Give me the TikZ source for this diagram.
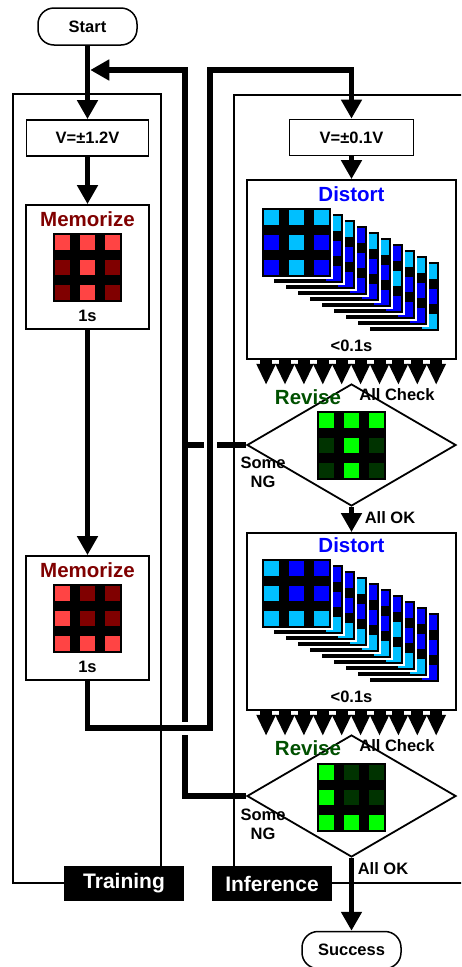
\documentclass[tikz,border=0pt]{standalone}
\usepackage{fontspec}
\setmainfont{Liberation Sans}
\usetikzlibrary{arrows.meta, shapes.geometric, backgrounds}

\definecolor{memhi}{HTML}{FF4444}
\definecolor{memlo}{HTML}{800000}
\definecolor{pixcyan}{HTML}{00BFFF}
\definecolor{pixblue}{HTML}{0000FF}
\definecolor{revhi}{HTML}{00FF00}
\definecolor{revlo}{HTML}{003300}
\definecolor{revtext}{HTML}{005000}

% 3x3 pixel pattern: top-left corner, nine cell colours (row by row)
\newcommand{\pixgrid}[2]{%
	\begin{scope}[shift={#1}]
		\fill[black, draw=white, line width=1.5pt] (0,0) rectangle (71,71);
		\foreach \clr [count=\k from 0] in {#2}
		\fill[\clr] ({3+25*mod(\k,3)},{3+25*int(\k/3)}) rectangle ++(15,15);
	\end{scope}}

% stack of distorted patterns: front corner x, y; front colours;
% right-hand columns of the cards behind (far to near)
\newcommand{\cardstack}[4]{%
	\foreach \topc/\midc/\botc [count=\n] in {#4} {
		\begin{scope}[shift={({#1+12*(10-\n)},{#2+6*(10-\n)})}]
			\fill[black, draw=white, line width=1.5pt] (0,0) rectangle (71,71);
			\fill[\topc] (53,3) rectangle ++(15,15);
			\fill[\midc] (53,28) rectangle ++(15,15);
			\fill[\botc] (53,53) rectangle ++(15,15);
		\end{scope}}
	\pixgrid{(#1,#2)}{#3}}

\begin{document}
\begin{tikzpicture}[
		x=1pt, y=-1pt,
		font=\bfseries\fontsize{16.5}{19}\selectfont,
		flow/.style={line width=5.5pt, -{Triangle[width=20pt,length=19pt]}},
		bus/.style={line width=5.5pt},
		bridge/.style={preaction={draw=white, line width=13pt, -}},
		probe/.style={line width=12pt, -{Triangle[width=18pt,length=21pt]}},
		term/.style={draw, line width=1.5pt, fill=white, rounded corners=16pt, inner sep=0, minimum width=99pt, minimum height=37pt},
		volt/.style={draw, line width=1.8pt, fill=white, inner sep=0, minimum height=36pt},
		panel/.style={draw, line width=1.8pt, fill=white, inner sep=0},
		check/.style={diamond, draw, line width=1.8pt, fill=white, inner sep=0, minimum width=209pt, minimum height=122pt},
		frame/.style={line width=1.5pt},
		tag/.style={fill=black, text=white, inner sep=0, minimum width=120pt, minimum height=35pt, font=\bfseries\fontsize{21}{24}\selectfont},
		title/.style={font=\bfseries\fontsize{20.5}{23}\selectfont}
		]
		
		\useasboundingbox (0,0) rectangle (461,967);
		\clip (0,0) rectangle (461,967);
		
		% ==========================================
		% Training column
		% ==========================================
		\node (start) [term] at (87.5,26.5) {Start};
		\node (vtrain) [volt, minimum width=122pt] at (87.5,138) {V=±1.2V};
		\node (mem1) [panel, minimum width=123pt, minimum height=124pt] at (87.5,267) {};
		\node (mem2) [panel, minimum width=123pt, minimum height=124pt] at (87.5,618) {};
		
		% ==========================================
		% Inference column
		% ==========================================
		\node (vinf) [volt, minimum width=124pt] at (351.5,137.5) {V=±0.1V};
		\node (dist1) [panel, minimum width=209pt, minimum height=179pt] at (351.5,269.5) {};
		\node (chk1) [check] at (351.5,445) {};
		\node (dist2) [panel, minimum width=209pt, minimum height=177pt] at (351.5,621.5) {};
		\node (chk2) [check] at (351.5,796) {};
		\node (success) [term] at (351.5,950) {Success};
		
		% feedback buses
		\coordinate (ngtop) at (185,70);
		\coordinate (merge) at (90.25,70);
		\coordinate (trainout) at (210,728);
		\coordinate (infbus) at (210,70);
		
		\begin{scope}[on background layer]
			\draw[bus] (chk1.west) -- (chk1.west -| ngtop);
			\draw[flow] (chk2.west) -| (ngtop) -- (merge);
			\draw[flow, bridge] (mem2.south) |- (trainout) -- (infbus) -| (vinf.north);
		\end{scope}
		
		% frames
		\draw[frame] (13,94) rectangle (161,883);
		\draw[frame] (475,95) -| (234,883) -- (475,883);
		\node (trainlbl) [tag] at (124,883.5) {Training};
		\node (inflbl) [tag] at (272,883.5) {Inference};
		
		% main flow
		\draw[flow] (start.south) -- (vtrain.north);
		\draw[flow] (vtrain) -- (mem1);
		\draw[flow] (mem1) -- (mem2);
		\draw[flow] (vinf) -- (dist1);
		\draw[flow] (chk1.south) -- (dist2.north);
		\draw[flow] (chk2.south) -- (success.north);
		\foreach \i in {0,...,9} {
			\draw[probe] ([xshift=20pt+18.9pt*\i]dist1.south west) -- ++(0,25);
			\draw[probe] ([xshift=20pt+18.9pt*\i]dist2.south west) -- ++(0,25);
		}
		
		% ==========================================
		% Panel contents
		% ==========================================
		\node (mem1title) [title, text=memlo] at (87.5,219) {Memorize};
		\pixgrid{(52,232)}{memhi,memhi,memhi,memlo,memhi,memlo,memlo,memhi,memlo}
		\node (mem1time) at (87.5,316) {1s};
		
		\node (mem2title) [title, text=memlo] at (87.5,570) {Memorize};
		\pixgrid{(52,583)}{memhi,memlo,memlo,memhi,memlo,memlo,memhi,memhi,memhi}
		\node (mem2time) at (87.5,667) {1s};
		
		\node (dist1title) [title, text=pixblue] at (351.5,194) {Distort};
		\cardstack{261}{207}{pixcyan,pixcyan,pixcyan,pixblue,pixcyan,pixblue,pixblue,pixcyan,pixblue}
		{pixcyan/pixblue/pixcyan, pixcyan/pixblue/pixblue, pixcyan/pixblue/pixblue,
			pixblue/pixcyan/pixblue, pixcyan/pixblue/pixblue, pixcyan/pixblue/pixblue,
			pixblue/pixblue/pixblue, pixcyan/pixblue/pixblue, pixcyan/pixblue/pixblue}
		\node (dist1time) at (351.5,346) {<0.1s};
		
		\node (dist2title) [title, text=pixblue] at (351.5,545) {Distort};
		\cardstack{261}{558}{pixcyan,pixblue,pixblue,pixcyan,pixblue,pixblue,pixcyan,pixcyan,pixcyan}
		{pixblue/pixblue/pixblue, pixblue/pixblue/pixcyan, pixblue/pixblue/pixcyan,
			pixblue/pixcyan/pixcyan, pixblue/pixblue/pixcyan, pixblue/pixblue/pixcyan,
			pixcyan/pixblue/pixcyan, pixblue/pixblue/pixcyan, pixblue/pixblue/pixcyan}
		\node (dist2time) at (351.5,697) {<0.1s};
		
		% checks
		\node (rev1) [title, text=revtext] at (308,397) {Revise};
		\pixgrid{(316,410)}{revhi,revhi,revhi,revlo,revhi,revlo,revlo,revhi,revlo}
		\node (all1) at (397,395) {All Check};
		\node (ng1) [align=center] at (263,472.5) {Some\\NG};
		\node (ok1) at (390,518) {All OK};
		
		\node (rev2) [title, text=revtext] at (308,748) {Revise};
		\pixgrid{(316,762)}{revhi,revlo,revlo,revhi,revlo,revlo,revhi,revhi,revhi}
		\node (all2) at (397,746) {All Check};
		\node (ng2) [align=center] at (263,824.5) {Some\\NG};
		\node (ok2) at (383,869) {All OK};
		
	\end{tikzpicture}
\end{document}
